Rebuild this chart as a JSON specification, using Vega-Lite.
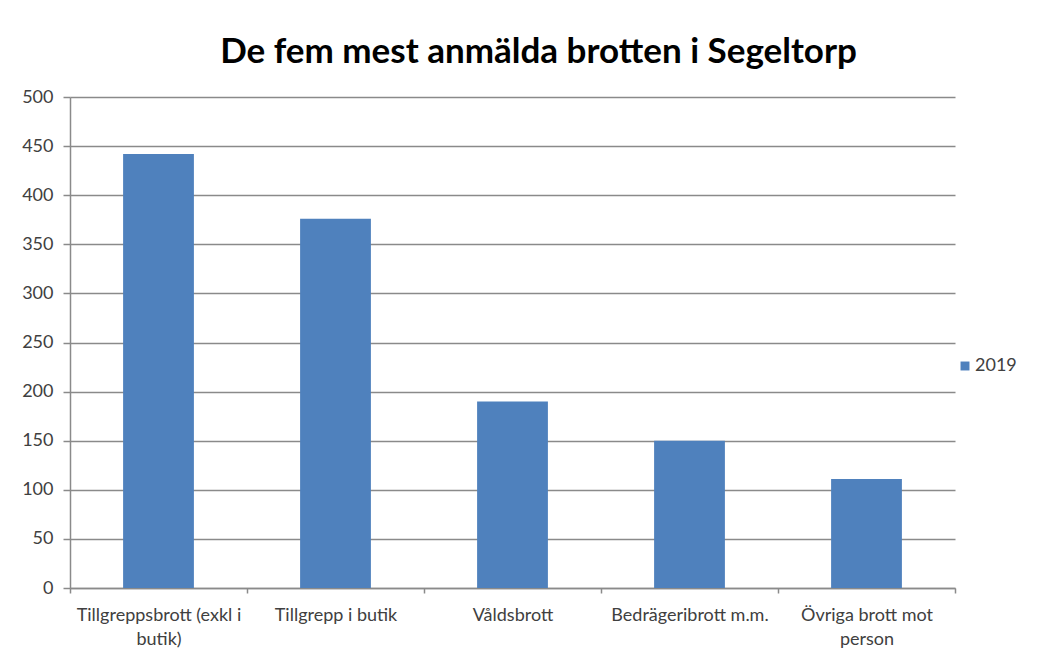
{
  "$schema": "https://vega.github.io/schema/vega-lite/v6.json",
  "width": 885,
  "height": 491,
  "autosize": "none",
  "padding": {"left": 70, "top": 97, "right": 97, "bottom": 68},
  "background": "white",
  "title": {
    "text": "De fem mest anmälda brotten i Segeltorp",
    "font": "Lato",
    "fontSize": 35,
    "fontWeight": "bold",
    "color": "#000000",
    "anchor": "middle",
    "dx": 26,
    "offset": 18
  },
  "data": {
    "values": [
      {"brott": "Tillgreppsbrott (exkl i butik)", "ar": "2019", "antal": 442},
      {"brott": "Tillgrepp i butik", "ar": "2019", "antal": 376},
      {"brott": "Våldsbrott", "ar": "2019", "antal": 190},
      {"brott": "Bedrägeribrott m.m.", "ar": "2019", "antal": 150},
      {"brott": "Övriga brott mot person", "ar": "2019", "antal": 111}
    ]
  },
  "mark": {"type": "bar", "width": {"band": 0.4}},
  "encoding": {
    "x": {
      "field": "brott",
      "type": "nominal",
      "sort": null,
      "scale": {"paddingInner": 0, "paddingOuter": 0},
      "axis": {
        "title": null,
        "labelAngle": 0,
        "tickBand": "extent",
        "labelExpr": "datum.label == 'Tillgreppsbrott (exkl i butik)' ? ['Tillgreppsbrott (exkl i', 'butik)'] : datum.label == 'Övriga brott mot person' ? ['Övriga brott mot', 'person'] : datum.label",
        "labelFont": "Lato",
        "labelFontSize": 18,
        "labelColor": "#404040",
        "labelLineHeight": 24,
        "labelPadding": 13,
        "labelBaseline": "top",
        "labelLimit": 300,
        "domainColor": "#8a8a8a",
        "domainWidth": 1.5,
        "tickColor": "#8a8a8a",
        "tickWidth": 1.5,
        "tickSize": 5,
        "grid": false
      }
    },
    "y": {
      "field": "antal",
      "type": "quantitative",
      "scale": {"domain": [0, 500], "nice": false},
      "axis": {
        "title": null,
        "values": [0, 50, 100, 150, 200, 250, 300, 350, 400, 450, 500],
        "labelFont": "Lato",
        "labelFontSize": 18,
        "labelColor": "#404040",
        "labelPadding": 10,
        "domainColor": "#8a8a8a",
        "domainWidth": 1.5,
        "tickColor": "#8a8a8a",
        "tickWidth": 1.5,
        "tickSize": 7,
        "grid": true,
        "gridColor": "#8a8a8a",
        "gridWidth": 1.5
      }
    },
    "color": {
      "field": "ar",
      "type": "nominal",
      "scale": {"range": ["#4f81bd"]},
      "legend": {
        "title": null,
        "orient": "none",
        "legendX": 886,
        "legendY": 260,
        "symbolType": "square",
        "symbolSize": 80,
        "symbolStrokeWidth": 0,
        "labelFont": "Lato",
        "labelFontSize": 18,
        "labelColor": "#404040",
        "labelOffset": 1
      }
    }
  },
  "config": {
    "view": {"stroke": null}
  }
}
